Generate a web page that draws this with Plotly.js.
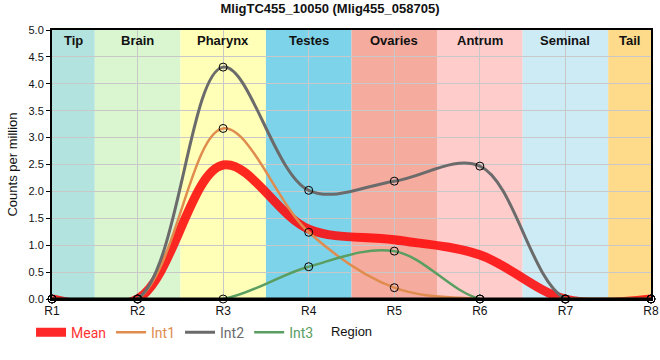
<!DOCTYPE html>
<html><head><meta charset="utf-8">
<script src="https://cdn.plot.ly/plotly-3.0.1.min.js"></script>
<style>html,body{margin:0;padding:0;background:#fff}#c{width:660px;height:360px}</style>
</head><body><div id="c"></div>
<script>
const regions = ["R1","R2","R3","R4","R5","R6","R7","R8"];
const meanVals = [0, 0, 2.49, 1.30, 1.10, 0.82, 0, 0];
const int1Vals = [0, 0, 3.17, 1.24, 0.21, 0, 0, 0];
const int2Vals = [0, 0, 4.31, 2.02, 2.19, 2.47, 0, 0];
const int3Vals = [0, 0, 0, 0.60, 0.89, 0, 0, 0];
const tissues = ["Tip","Brain","Pharynx","Testes","Ovaries","Antrum","Seminal","Tail"];
const tissueStart = [0, 0.5, 1.5, 2.5, 3.5, 4.5, 5.5, 6.5];
const tissueEnd = [0.5, 1.5, 2.5, 3.5, 4.5, 5.5, 6.5, 7];
const tissueColors = ["#b3e3de","#d9f6d1","#ffffb7","#7dd4ea","#f5ab9e","#ffcccc","#cdebf5","#fddb8b"];

const xs = regions.map((_, i) => i);
const mk = {symbol:"circle", size:8, color:"rgba(0,0,0,0)", line:{color:"#000", width:1}};
const series = [
  {vals:int1Vals, color:"#e08c4e", width:2.5, label:"Int1"},
  {vals:int2Vals, color:"#6b6b6b", width:3, label:"Int2"},
  {vals:int3Vals, color:"#5a9e62", width:2.5, label:"Int3"}
];
const traces = [
  {x: xs, y: meanVals, mode:"lines", line:{shape:"spline", color:"rgba(255,10,10,0.88)", width:9},
   name:'<span style="color:#ff3333">Mean</span>'}
];
series.forEach(s => traces.push({x: xs, y: s.vals, mode:"lines", line:{shape:"spline", color:s.color, width:s.width},
  name:'<span style="color:'+s.color+'">'+s.label+'</span>'}));
series.forEach(s => traces.push({x: xs, y: s.vals, mode:"markers", marker:mk, showlegend:false, cliponaxis:false}));

const shapes = tissues.map((t, i) => ({type:"rect", xref:"x", yref:"paper", x0:tissueStart[i], x1:tissueEnd[i], y0:0, y1:1,
  fillcolor:tissueColors[i], line:{width:0}, layer:"below"}));
shapes.push({type:"line", xref:"paper", yref:"y", x0:0, x1:1, y0:0, y1:0, line:{color:"#000", width:3}, layer:"above"});
const annotations = tissues.map((t, i) => ({x:(tissueStart[i]+tissueEnd[i])/2, y:0.995, xref:"x", yref:"paper",
  text:"<b>"+t+"</b>", showarrow:false, yanchor:"top", font:{family:"Liberation Sans, Arial", size:13, color:"#111"}}));

const layout = {
  width:660, height:360,
  margin:{l:52, r:9, t:30, b:61},
  paper_bgcolor:"#fff", plot_bgcolor:"#fff",
  title:{text:"<b>MligTC455_10050 (Mlig455_058705)</b>", x:0.5, xanchor:"center", y:0.99, yanchor:"top",
    font:{family:"Liberation Sans, Arial", size:13, color:"#111"}},
  xaxis:{range:[0,7], tickvals:xs, ticktext:regions, showgrid:true, gridcolor:"#c8c8c8", gridwidth:1,
    zeroline:false, showline:true, linecolor:"#000", linewidth:2, mirror:true, ticks:"",
    tickfont:{family:"Liberation Sans, Arial", size:12, color:"#111"},
    title:{text:"Region", standoff:9, font:{family:"Liberation Sans, Arial", size:13, color:"#111"}}},
  yaxis:{range:[0,5], dtick:0.5, tickformat:".1f", showgrid:true, gridcolor:"#c8c8c8", gridwidth:1,
    zeroline:false, showline:true, linecolor:"#000", linewidth:2, mirror:true, ticks:"outside", ticklen:4, tickcolor:"#000",
    tickfont:{family:"Liberation Sans, Arial", size:11, color:"#111"},
    title:{text:"Counts per million", standoff:8, font:{family:"Liberation Sans, Arial", size:13, color:"#111"}}},
  showlegend:true,
  legend:{orientation:"h", x:-0.035, xanchor:"left", y:-0.125, yanchor:"middle", itemwidth:30,
    font:{family:"Roboto, Liberation Sans", size:14}, bgcolor:"rgba(0,0,0,0)", traceorder:"normal", tracegroupgap:0},
  shapes:shapes, annotations:annotations
};
Plotly.newPlot("c", traces, layout, {displayModeBar:false, staticPlot:true});
</script></body></html>
